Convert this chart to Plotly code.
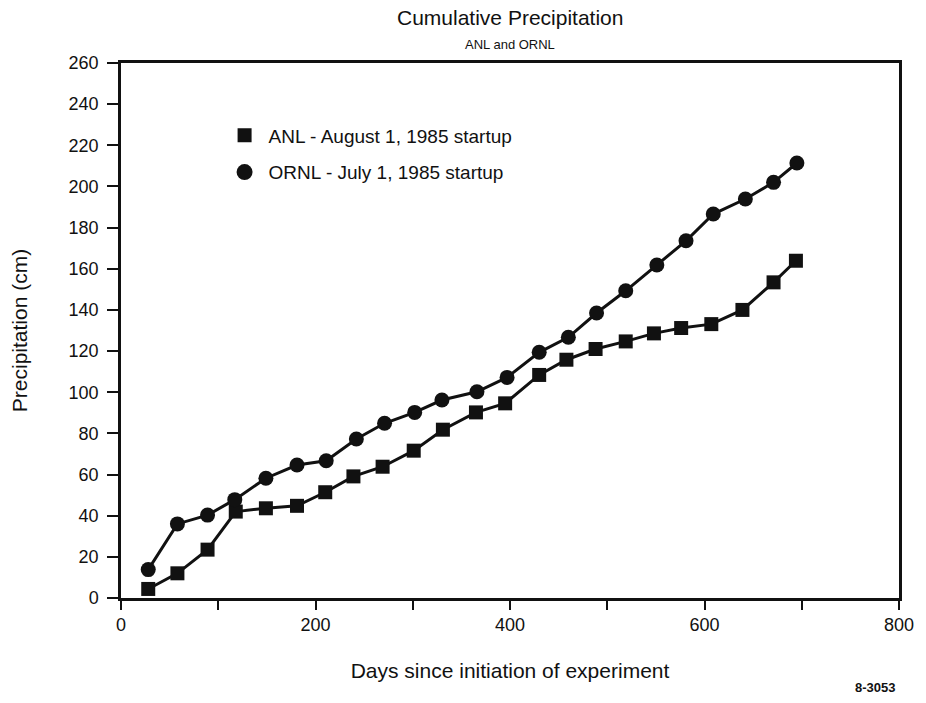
import plotly.graph_objects as go

# ANL - August 1, 1985 startup (squares)
anl_days = [28, 58, 89, 118, 149, 181, 210, 239, 269, 301, 331, 365, 395, 430, 458, 488, 519, 548, 576, 607, 639, 671, 694]
anl_precip = [4.4, 12, 23.5, 42, 43.6, 44.8, 51.4, 59.1, 63.8, 71.6, 81.8, 90.2, 94.6, 108.4, 115.8, 121, 124.7, 128.6, 131.2, 133.1, 140, 153.4, 163.9]

# ORNL - July 1, 1985 startup (circles)
ornl_days = [28, 58, 89, 117, 149, 181, 211, 242, 271, 302, 330, 366, 397, 430, 460, 489, 519, 551, 581, 609, 642, 671, 695]
ornl_precip = [13.8, 36, 40.3, 47.8, 58.2, 64.6, 66.7, 77.3, 84.9, 90.2, 96.2, 100.2, 107.2, 119.4, 126.7, 138.5, 149.3, 161.8, 173.6, 186.6, 193.9, 202, 211.4]

series_names = ["ANL - August 1, 1985 startup", "ORNL - July 1, 1985 startup"]

x_ticks = [0, 200, 400, 600, 800]
y_ticks = list(range(0, 261, 20))

FONT = "Liberation Sans, Arial, sans-serif"
INK = "#111111"

fig = go.Figure()

fig.add_trace(go.Scatter(
    x=anl_days, y=anl_precip, mode="lines+markers",
    line=dict(color=INK, width=3),
    marker=dict(symbol="square", size=14, color=INK),
    showlegend=False, name=series_names[0]))
fig.add_trace(go.Scatter(
    x=ornl_days, y=ornl_precip, mode="lines+markers",
    line=dict(color=INK, width=3),
    marker=dict(symbol="circle", size=15, color=INK),
    showlegend=False, name=series_names[1]))

# legend entries showing only the marker
fig.add_trace(go.Scatter(x=[None], y=[None], mode="markers",
                         marker=dict(symbol="square", size=14, color=INK),
                         name=series_names[0], legendgroup="a"))
fig.add_trace(go.Scatter(x=[None], y=[None], mode="markers",
                         marker=dict(symbol="circle", size=17, color=INK),
                         name=series_names[1], legendgroup="b"))

axis_common = dict(
    showline=True, linecolor=INK, linewidth=2.5, mirror=True,
    ticks="outside", tickwidth=2, tickcolor=INK,
    showgrid=False, zeroline=False,
    tickfont=dict(family=FONT, size=18, color=INK),
)

fig.update_xaxes(
    range=[0, 800], tickvals=x_ticks, ticklen=9,
    minor=dict(dtick=100, ticks="outside", ticklen=9, tickwidth=2, tickcolor=INK, showgrid=False),
    title=dict(text="Days since initiation of experiment",
               font=dict(family=FONT, size=21, color=INK), standoff=29),
    **axis_common)
fig.update_yaxes(
    range=[0, 260], tickvals=y_ticks, ticklen=11, ticklabelstandoff=5,
    title=dict(text="Precipitation (cm)", font=dict(family=FONT, size=21, color=INK), standoff=36),
    **axis_common)

fig.update_layout(
    width=926, height=703,
    margin=dict(l=121, r=21, t=63, b=105),
    plot_bgcolor="white", paper_bgcolor="white",
    font=dict(family=FONT, color=INK),
    legend=dict(x=0.128, y=0.9, xanchor="left", yanchor="top",
                bgcolor="rgba(0,0,0,0)", font=dict(family=FONT, size=19, color=INK),
                itemwidth=38, tracegroupgap=9),
)

fig.add_annotation(text="Cumulative Precipitation", xref="paper", yref="paper",
                   x=0.5, y=1, yanchor="bottom", yshift=32, showarrow=False,
                   font=dict(family=FONT, size=21, color=INK))
fig.add_annotation(text="ANL and ORNL", xref="paper", yref="paper",
                   x=0.5, y=1, yanchor="bottom", yshift=9, showarrow=False,
                   font=dict(family=FONT, size=13, color=INK))
fig.add_annotation(text="<b>8-3053</b>", xref="paper", yref="paper",
                   x=1, y=0, xanchor="right", yanchor="top", yshift=-80, xshift=-2,
                   showarrow=False, font=dict(family=FONT, size=13, color=INK))

fig.write_html("out.html")
